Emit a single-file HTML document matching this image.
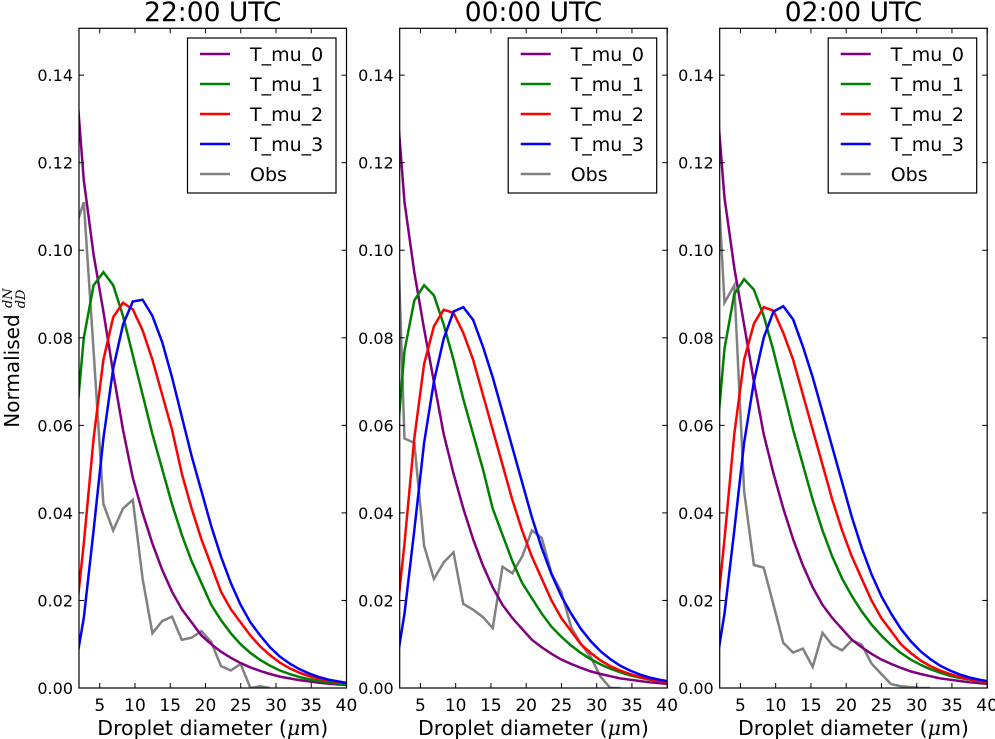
<!DOCTYPE html>
<html><head><meta charset="utf-8"><style>
body{margin:0;background:#fff;}
svg{display:block;font-family:"DejaVu Sans","Liberation Sans",sans-serif;}
</style></head><body>
<svg id="chart" width="995" height="739" viewBox="0 0 995 739" xmlns="http://www.w3.org/2000/svg">
<rect width="995" height="739" fill="#fff"/>
<text transform="translate(19,358) rotate(-90)" text-anchor="middle" font-size="20">Normalised <tspan font-style="italic" font-family="'DejaVu Serif',serif" font-size="13" dy="-7">dN</tspan><tspan font-style="italic" font-family="'DejaVu Serif',serif" font-size="13" dx="-20" dy="13">dD</tspan></text>
</svg>
<script>
const xGrid=[1.35,2.74,4.13,5.52,6.91,8.30,9.69,11.08,12.47,13.86,15.25,16.64,18.03,19.42,20.81,22.2,23.59,24.98,26.37,27.76,29.15,30.54,31.93,33.32,34.71,36.1,37.49,38.88,40.27];
const panelTitles=["22:00 UTC","00:00 UTC","02:00 UTC"];
const seriesNames=["T_mu_0","T_mu_1","T_mu_2","T_mu_3","Obs"];
const xTicks=[5,10,15,20,25,30,35,40];
const yTicks=[0,0.02,0.04,0.06,0.08,0.10,0.12,0.14];
const yTickLabels=["0.00","0.02","0.04","0.06","0.08","0.10","0.12","0.14"];
// panel 1
const p1mu0=[0.145,0.116,0.099,0.086,0.072,0.059,0.048,0.040,0.033,0.027,0.022,0.018,0.015,0.012,0.010,0.0083,0.0069,0.0057,0.0047,0.0039,0.0032,0.0026,0.0022,0.0018,0.0015,0.0012,0.001,0.0008,0.0007];
const p1mu1=[0.055,0.080,0.092,0.095,0.092,0.085,0.076,0.067,0.058,0.050,0.042,0.035,0.029,0.024,0.019,0.0155,0.0125,0.010,0.008,0.0064,0.0051,0.004,0.0032,0.0025,0.002,0.0016,0.0013,0.001,0.0008];
const p1mu2=[0.012,0.033,0.057,0.075,0.0847,0.088,0.0865,0.0817,0.075,0.067,0.059,0.049,0.041,0.034,0.028,0.022,0.018,0.015,0.012,0.0095,0.0075,0.0058,0.0045,0.0035,0.0027,0.0021,0.0017,0.0014,0.0011];
const p1mu3=[0.003,0.016,0.036,0.057,0.073,0.083,0.0883,0.0887,0.085,0.079,0.071,0.062,0.053,0.045,0.037,0.030,0.024,0.019,0.015,0.012,0.0093,0.0072,0.0056,0.0043,0.0033,0.0025,0.0019,0.0015,0.0011];
const p1obs=[0.104,0.111,0.077,0.042,0.036,0.041,0.043,0.025,0.0125,0.0153,0.0163,0.011,0.0115,0.013,0.0105,0.005,0.004,0.0055,0.0,0.0004,0.0];
// panel 2
const p2mu0=[0.140,0.111,0.095,0.082,0.070,0.058,0.049,0.041,0.034,0.028,0.023,0.019,0.016,0.0135,0.011,0.0093,0.0078,0.0065,0.0055,0.0046,0.0038,0.0032,0.0027,0.0022,0.0019,0.0016,0.0013,0.0011,0.0009];
const p2mu1=[0.050,0.077,0.0885,0.092,0.0897,0.083,0.075,0.066,0.058,0.050,0.041,0.035,0.029,0.024,0.0205,0.017,0.014,0.0117,0.0097,0.008,0.0066,0.0054,0.0044,0.0036,0.0029,0.0024,0.0019,0.0016,0.0013];
const p2mu2=[0.012,0.033,0.057,0.074,0.0826,0.0864,0.0857,0.0811,0.075,0.067,0.059,0.051,0.043,0.036,0.030,0.025,0.020,0.016,0.013,0.010,0.008,0.0063,0.005,0.004,0.0032,0.0025,0.002,0.0016,0.0013];
const p2mu3=[0.003,0.017,0.036,0.056,0.070,0.0798,0.086,0.087,0.0841,0.078,0.071,0.063,0.055,0.047,0.039,0.032,0.026,0.021,0.017,0.0135,0.0107,0.0084,0.0066,0.0051,0.004,0.0031,0.0024,0.0019,0.0015];
const p2obs=[0.125,0.057,0.056,0.0325,0.0249,0.0287,0.031,0.0192,0.0179,0.0162,0.0137,0.0277,0.0262,0.030,0.036,0.0343,0.0262,0.022,0.0139,0.0101,0.0071,0.0026,0.0,0.0];
// panel 3
const p3mu0=[0.140,0.112,0.096,0.083,0.070,0.058,0.049,0.041,0.034,0.028,0.023,0.019,0.016,0.0135,0.011,0.0093,0.0078,0.0065,0.0055,0.0046,0.0038,0.0032,0.0027,0.0022,0.0019,0.0016,0.0013,0.0011,0.0009];
const p3mu1=[0.052,0.0775,0.090,0.0934,0.091,0.085,0.077,0.068,0.059,0.051,0.043,0.036,0.030,0.025,0.021,0.0175,0.0145,0.012,0.0098,0.008,0.0065,0.0053,0.0043,0.0035,0.0028,0.0023,0.0019,0.0015,0.0012];
const p3mu2=[0.012,0.034,0.058,0.075,0.0832,0.087,0.0862,0.0811,0.075,0.067,0.059,0.051,0.043,0.036,0.030,0.025,0.020,0.016,0.013,0.010,0.008,0.0063,0.005,0.004,0.0032,0.0025,0.002,0.0016,0.0013];
const p3mu3=[0.003,0.017,0.036,0.056,0.070,0.080,0.086,0.0872,0.0842,0.078,0.071,0.063,0.055,0.047,0.039,0.032,0.026,0.021,0.017,0.0135,0.0107,0.0084,0.0066,0.0051,0.004,0.0031,0.0024,0.0019,0.0015];
const p3obs=[0.13,0.088,0.092,0.045,0.0281,0.0275,0.019,0.0103,0.0081,0.009,0.0048,0.0126,0.0098,0.0086,0.0109,0.0099,0.0056,0.0032,0.0009,0.0004,0.0002,0.0,0.0];

const colors=["#800080","#008000","#ff0000","#0000ff","#808080"];
const panels=[[p1mu0,p1mu1,p1mu2,p1mu3,p1obs],[p2mu0,p2mu1,p2mu2,p2mu3,p2obs],[p3mu0,p3mu1,p3mu2,p3mu3,p3obs]];
const lefts=[79,399.7,719.7];
const W=267.5,TOP=28.3,BOT=688,XMIN=2.06,XMAX=40,YMAX=0.1507;
const NS="http://www.w3.org/2000/svg";
const svg=document.getElementById("chart");
function mk(tag,attrs,parent){const e=document.createElementNS(NS,tag);for(const k in attrs)e.setAttribute(k,attrs[k]);(parent||svg).appendChild(e);return e;}
panels.forEach((series,pi)=>{
  const L=lefts[pi];
  const xs=v=>L+(v-XMIN)/(XMAX-XMIN)*W;
  const ys=v=>BOT-v/YMAX*(BOT-TOP);
  const g=mk("g",{});
  
  
  const cid="clip"+pi;
  const cp=mk("clipPath",{id:cid},g);mk("rect",{x:L,y:TOP,width:W,height:BOT-TOP},cp);
  const title=mk("text",{x:L+W/2,y:21,"text-anchor":"middle","font-size":"26.5"},g);
  title.textContent=panelTitles[pi];
  
  
  const order=[4,0,1,2,3];
  order.forEach(si=>{
    const vals=series[si];
    const pts=vals.map((v,i)=>xs(xGrid[i]).toFixed(2)+","+ys(v).toFixed(2)).join(" ");
    const pl=mk("polyline",{points:pts,fill:"none",stroke:colors[si],"stroke-width":"2.5","stroke-linejoin":"miter","clip-path":"url(#"+cid+")"},g);
    
    
  });
  const frame=mk("rect",{x:L,y:TOP,width:W,height:BOT-TOP,fill:"none",stroke:"#000","stroke-width":"1.2"},g);
  
  
  xTicks.forEach(t=>{
    const x=xs(t);
    mk("line",{x1:x,x2:x,y1:BOT,y2:BOT-5,stroke:"#000"},g);
    mk("line",{x1:x,x2:x,y1:TOP,y2:TOP+5,stroke:"#000"},g);
    const tl=mk("text",{x:x,y:BOT+23,"text-anchor":"middle","font-size":"17"},g);
    tl.textContent=String(t);
    
    
  });
  yTicks.forEach((t,i)=>{
    const y=ys(t);
    mk("line",{x1:L,x2:L+5,y1:y,y2:y,stroke:"#000"},g);
    mk("line",{x1:L+W,x2:L+W-5,y1:y,y2:y,stroke:"#000"},g);
    const tl=mk("text",{x:L-6,y:y+6,"text-anchor":"end","font-size":"16"},g);
    tl.textContent=yTickLabels[i];
    
    
  });
  const xl=mk("text",{x:L+W/2,y:735,"text-anchor":"middle","font-size":"20.5"},g);
  xl.innerHTML='Droplet diameter (<tspan font-style="italic" font-family="\'DejaVu Serif\',serif">μ</tspan>m)';
  
  
  const lg=mk("g",{},g);
  
  
  mk("rect",{x:L+108.5,y:38,width:148.5,height:155,fill:"#fff",stroke:"#000","stroke-width":"1.2"},lg);
  seriesNames.forEach((n,si)=>{
    const y=54+si*30;
    const ln=mk("line",{x1:L+121,x2:L+151,y1:y,y2:y,stroke:colors[si],"stroke-width":"2.5"},lg);
    
    
    const tx=mk("text",{x:L+171,y:y+7,"font-size":"19"},lg);
    tx.textContent=n;
    
    
  });
});
</script>
</body></html>
